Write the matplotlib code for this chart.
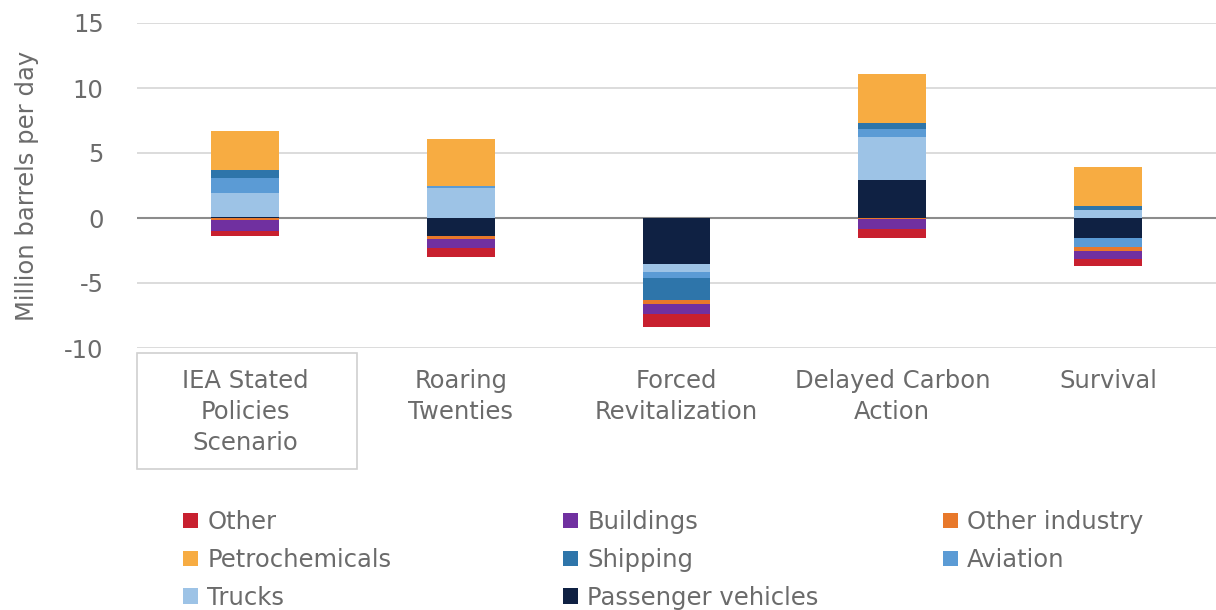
import matplotlib
matplotlib.use("Agg")
import matplotlib.pyplot as plt
from matplotlib.patches import Patch, Rectangle
import numpy as np

plt.rcParams['font.family'] = ['DejaVu Sans']

categories = ["IEA Stated\nPolicies\nScenario", "Roaring\nTwenties", "Forced\nRevitalization",
              "Delayed Carbon\nAction", "Survival"]

# stacking order (closest to zero first)
series_names = ["Passenger vehicles", "Trucks", "Aviation", "Shipping", "Petrochemicals",
                "Other industry", "Buildings", "Other"]
passenger = [0.1, -1.4, -3.5, 2.9, -1.5]
trucks = [1.85, 2.3, -0.65, 3.3, 0.65]
aviation = [1.15, 0.2, -0.45, 0.65, -0.75]
shipping = [0.6, 0.0, -1.7, 0.45, 0.25]
petrochemicals = [3.0, 3.6, 0.0, 3.8, 3.0]
other_industry = [-0.15, -0.2, -0.3, -0.1, -0.3]
buildings = [-0.85, -0.7, -0.8, -0.75, -0.6]
other = [-0.4, -0.7, -0.95, -0.7, -0.55]

colors = {
    "Other": "#C8202F",
    "Buildings": "#7030A0",
    "Other industry": "#E8782A",
    "Petrochemicals": "#F7AC42",
    "Shipping": "#2E75AA",
    "Aviation": "#5B9BD5",
    "Trucks": "#9DC3E6",
    "Passenger vehicles": "#0F2143",
}
text_color = "#6B6B6B"
fs = 17.5

data = [passenger, trucks, aviation, shipping, petrochemicals, other_industry, buildings, other]

fig = plt.figure(figsize=(12.16, 6.10), dpi=100)
ax = fig.add_axes([137/1216, 1-348/610, 1-137/1216, (348-23)/610])

x = np.arange(len(categories))
pos_base = np.zeros(len(categories))
neg_base = np.zeros(len(categories))
width = 0.315
for name, vals in zip(series_names, data):
    v = np.array(vals, dtype=float)
    bottoms = np.where(v >= 0, pos_base, neg_base)
    ax.bar(x, v, width=width, bottom=bottoms, color=colors[name], label=name,
           edgecolor='none', zorder=3)
    pos_base = pos_base + np.where(v >= 0, v, 0)
    neg_base = neg_base + np.where(v < 0, v, 0)

ax.set_xlim(-0.5, 4.5)
ax.set_ylim(-10, 15)
ax.set_yticks([-10, -5, 0, 5, 10, 15])
ax.set_yticklabels(["-10", "-5", "0", "5", "10", "15"])
ax.yaxis.grid(True, color="#D9D9D9", linewidth=1.3, zorder=0)
ax.axhline(0, color="#8C8C8C", linewidth=1.5, zorder=2)
for s in ax.spines.values():
    s.set_visible(False)
ax.tick_params(axis='y', length=0, labelsize=fs, labelcolor=text_color, pad=24)
ax.set_xticks(x)
ax.set_xticklabels(categories, fontsize=fs, color=text_color, linespacing=1.36)
ax.tick_params(axis='x', length=0, pad=15)
ax.set_ylabel("Million barrels per day", fontsize=fs, color=text_color, labelpad=18)

# selection box around first category label
fig.add_artist(Rectangle((137/1216, 1-469/610), 220/1216, 116/610, transform=fig.transFigure,
                         fill=False, edgecolor="#D0D0D0", linewidth=1.2))

# legend in three columns (row-major reading order)
legend_cols = [["Other", "Petrochemicals", "Trucks"],
               ["Buildings", "Shipping", "Passenger vehicles"],
               ["Other industry", "Aviation"]]
col_x = [183/1216, 563/1216, 943/1216]
for cx, names in zip(col_x, legend_cols):
    handles = [Patch(facecolor=colors[n], edgecolor='none') for n in names]
    fig.legend(handles, names, loc="upper left", bbox_to_anchor=(cx, 1-510/610),
               frameon=False, fontsize=fs, labelcolor=text_color,
               handlelength=0.6, handleheight=0.6, handletextpad=0.4,
               labelspacing=0.57, borderpad=0, borderaxespad=0)

fig.savefig("out.png", dpi=100)
